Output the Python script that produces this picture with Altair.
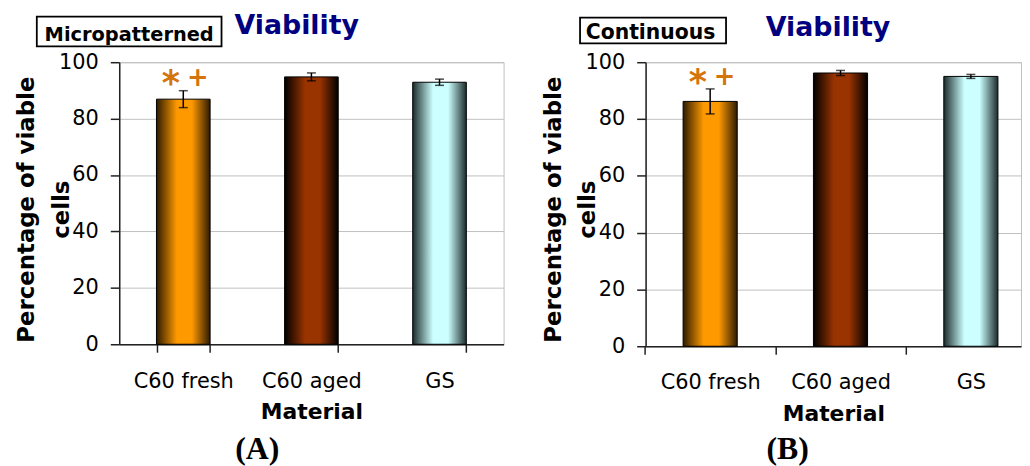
import altair as alt
import pandas as pd

# ---------------- data ----------------
materials = ["C60 fresh", "C60 aged", "GS"]
micro_mean = [86.9, 94.8, 92.9]
micro_err = [3.0, 1.4, 1.1]
cont_mean = [86.2, 96.2, 95.0]
cont_err = [4.4, 0.9, 0.7]
y_ticks = [0, 20, 40, 60, 80, 100]
panel_names = ["Micropatterned", "Continuous"]
panel_letters = ["(A)", "(B)"]
title_text = "Viability"
x_title = "Material"
y_title = ["Percentage of viable", "cells"]
sig_material = "C60 fresh"
sig_symbols = ["*", "+"]

bar_dark = ["#2e1b00", "#000000", "#1c2b2b"]
bar_bright = ["#ff9900", "#993300", "#ccffff"]

SANS = "DejaVu Sans"
SERIF = "Liberation Serif"
NAVY = "#000080"
ORANGE = "#d4740c"
AXIS = "#222222"


def make_panel(means, errs, name, letter, cfg):
    df = pd.DataFrame({
        "material": materials,
        "mean": means,
        "lo": [m - e for m, e in zip(means, errs)],
        "hi": [m + e for m, e in zip(means, errs)],
    })
    xscale = alt.Scale(domain=materials, **cfg["xscale"])
    xaxis = alt.Axis(
        title=x_title, labelAngle=0, labelFont=SANS, labelFontSize=21,
        labelColor="black", labelPadding=cfg["label_pad"], tickSize=8,
        tickColor=AXIS, tickWidth=1.5, domainColor=AXIS, domainWidth=1.5,
        grid=False, titleFont=SANS, titleFontSize=22, titleFontWeight="bold",
        titleColor="black", titleBaseline="top", titleY=cfg["xtitle_y"],
        **cfg["xaxis"])
    yaxis = alt.Axis(
        title=y_title, values=y_ticks, labelFont=SANS, labelFontSize=21,
        labelColor="black", labelPadding=12, tickSize=9, tickColor=AXIS,
        tickWidth=1.5, domainColor=AXIS, domainWidth=1.5, grid=True,
        gridColor="#c0c0c0", gridWidth=1, titleFont=SANS, titleFontSize=23,
        titleFontWeight="bold", titleColor="black", titleLineHeight=35,
        titleX=-81, titleY=cfg["ytitle_y"], titleBaseline="bottom",
        titleAlign="center")
    yscale = alt.Scale(domain=[0, 100], nice=False, zero=True)

    x = alt.X("material:N", scale=xscale, axis=xaxis)

    def y(field):
        return alt.Y(f"{field}:Q", scale=yscale, axis=yaxis)

    base = alt.Chart(df)
    layers = []
    for i, m in enumerate(materials):
        grad = alt.LinearGradient(
            gradient="linear", x1=0, x2=1, y1=0, y2=0,
            stops=[alt.GradientStop(offset=0, color=bar_dark[i]),
                   alt.GradientStop(offset=0.38, color=bar_bright[i]),
                   alt.GradientStop(offset=0.66, color=bar_bright[i]),
                   alt.GradientStop(offset=1, color=bar_dark[i])])
        layers.append(
            base.transform_filter(alt.datum.material == m)
            .mark_bar(fill=grad, stroke="black", strokeWidth=1)
            .encode(x=x, y=y("mean")))

    layers.append(base.mark_rule(color="black", strokeWidth=1.5)
                  .encode(x=x, y=y("lo"), y2="hi:Q"))
    layers.append(base.mark_tick(color="black", size=9, thickness=1.5,
                                 orient="horizontal")
                  .encode(x=x, y=y("lo")))
    layers.append(base.mark_tick(color="black", size=9, thickness=1.5,
                                 orient="horizontal")
                  .encode(x=x, y=y("hi")))

    sig = base.transform_filter(alt.datum.material == sig_material)
    layers.append(sig.mark_text(text=sig_symbols[0], font=SANS, fontSize=35,
                                fontWeight="bold", color=ORANGE,
                                baseline="alphabetic", align="center",
                                dx=-12.5, dy=cfg["star_dy"])
                  .encode(x=x, y=y("hi")))
    layers.append(sig.mark_text(text=sig_symbols[1], font=SANS, fontSize=26,
                                fontWeight="bold", color=ORANGE,
                                baseline="alphabetic", align="center",
                                dx=14.5, dy=cfg["plus_dy"])
                  .encode(x=x, y=y("hi")))

    lab = alt.Chart(pd.DataFrame({"name": [name], "title": [title_text],
                                  "letter": [letter]}))
    bx0, bx1, by0, by1 = cfg["box"]
    layers.append(lab.mark_rect(fill="white", stroke="black", strokeWidth=1.8)
                  .encode(x=alt.value(bx0), x2=alt.value(bx1),
                          y=alt.value(by0), y2=alt.value(by1)))
    tx, ty = cfg["box_text"]
    layers.append(lab.mark_text(font=SANS, fontSize=cfg["box_fs"],
                                fontWeight="bold", color="black",
                                align="center", baseline="alphabetic")
                  .encode(x=alt.value(tx), y=alt.value(ty), text="name:N"))
    vx, vy = cfg["title_pos"]
    layers.append(lab.mark_text(font=SANS, fontSize=27, fontWeight="bold",
                                color=NAVY, align="left",
                                baseline="alphabetic")
                  .encode(x=alt.value(vx), y=alt.value(vy), text="title:N"))
    lx, ly = cfg["letter_pos"]
    layers.append(lab.mark_text(font=SERIF, fontSize=32, fontWeight="bold",
                                color="black", align="center",
                                baseline="alphabetic")
                  .encode(x=alt.value(lx), y=alt.value(ly), text="letter:N"))

    return alt.layer(*layers).properties(width=cfg["width"],
                                         height=cfg["height"])


cfg_a = dict(
    width=387, height=284,
    xscale=dict(paddingInner=0.5814, paddingOuter=0.2907),
    xaxis=dict(tickBand="extent"),
    label_pad=18.7, xtitle_y=57.5, ytitle_y=148,
    box=(-83, 103, -46, -16), box_text=(10, -21.7), box_fs=19.5,
    title_pos=(116, -28.3), letter_pos=(139, 400),
    star_dy=4, plus_dy=-5,
)
cfg_b = dict(
    width=378, height=286,
    xscale=dict(paddingInner=0.5848, paddingOuter=0.2324, align=0.619),
    xaxis=dict(tickOffset=-65.6, labelOffset=65.6),
    label_pad=17.7, xtitle_y=57.5, ytitle_y=148,
    box=(-66, 81, -45, -19), box_text=(5, -23.3), box_fs=20.5,
    title_pos=(121, -26.7), letter_pos=(143, 400),
    star_dy=5, plus_dy=-4,
)

panel_a = make_panel(micro_mean, micro_err, panel_names[0], panel_letters[0], cfg_a)
panel_b = make_panel(cont_mean, cont_err, panel_names[1], panel_letters[1], cfg_b)

chart = (
    alt.hconcat(panel_a, panel_b, spacing=143, bounds="flush")
    .properties(padding={"left": 7, "top": 2, "right": 0, "bottom": 0},
                background="white")
    .configure_view(stroke="#c0c0c0", strokeWidth=1)
)

chart.save("out.html", embed_options={"renderer": "svg", "actions": False})
